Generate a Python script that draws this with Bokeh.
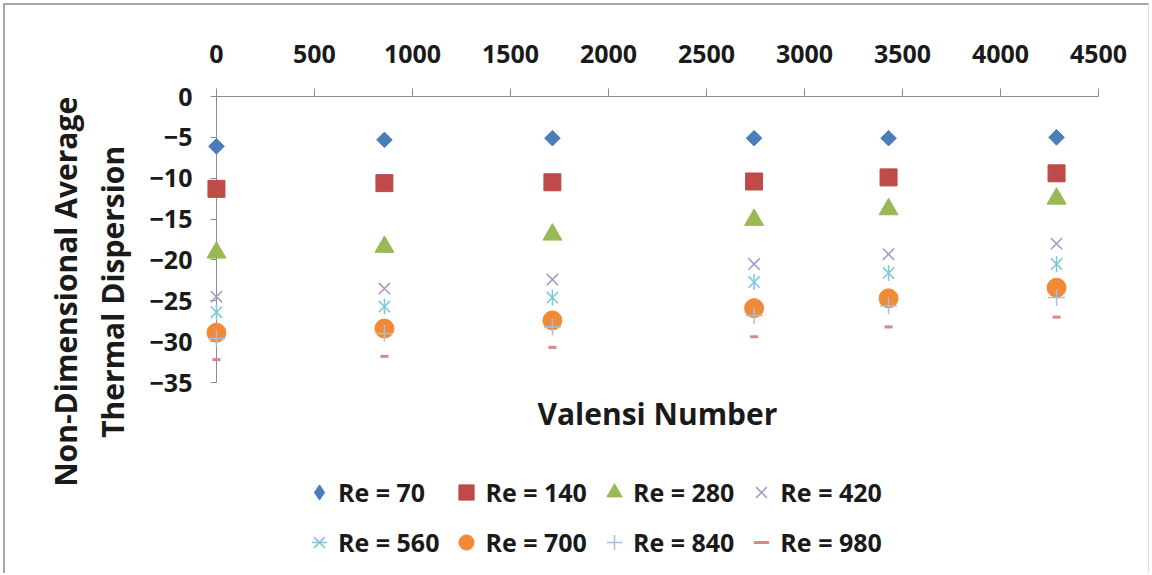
import math
from bokeh.plotting import figure
from bokeh.models import Range1d, Legend, LegendItem, Label, FixedTicker
from bokeh.embed import file_html
from bokeh.resources import INLINE

# ---- data ----
valensi = [0, 857, 1714, 2743, 3429, 4286]
re_labels = ["Re = 70", "Re = 140", "Re = 280", "Re = 420",
             "Re = 560", "Re = 700", "Re = 840", "Re = 980"]
re70 = [-6.1, -5.3, -5.1, -5.1, -5.1, -5.0]
re140 = [-11.3, -10.6, -10.5, -10.4, -9.9, -9.4]
re280 = [-19.1, -18.4, -16.9, -15.1, -13.8, -12.5]
re420 = [-24.5, -23.5, -22.4, -20.5, -19.3, -18.0]
re560 = [-26.4, -25.7, -24.6, -22.7, -21.6, -20.5]
re700 = [-28.9, -28.4, -27.4, -25.9, -24.7, -23.4]
re840 = [-29.6, -29.0, -28.2, -26.8, -25.6, -24.6]
re980 = [-32.2, -31.8, -30.7, -29.4, -28.2, -27.0]
x_ticks = [0, 500, 1000, 1500, 2000, 2500, 3000, 3500, 4000, 4500]
y_ticks = [0, -5, -10, -15, -20, -25, -30, -35]

FONT = "Open Sans"
TXT = "#1a1a1a"

# The frame spans (almost) the whole chart so that tick labels, titles and the
# legend are drawn inside it; both axes are fixed at 0 and bounded to the
# data area (x 0..4500 along y = 0, y 0..-35 along x = 0).
p = figure(width=1146, height=570, output_backend="svg", toolbar_location=None,
           x_range=Range1d(-1061, 4745), y_range=Range1d(-58.25, 10.77),
           x_axis_location="above",
           min_border_left=3, min_border_right=5,
           min_border_top=3, min_border_bottom=3,
           styles={"margin": "3px 0 0 3px",
                   "border-left": "2px solid #A8A8A8",
                   "border-top": "2px solid #A8A8A8",
                   "border-right": "1px solid #DDDDDD"})
p.xgrid.visible = False
p.ygrid.visible = False
p.outline_line_color = None
p.background_fill_color = "white"
p.border_fill_color = "white"

for ax in (p.xaxis[0], p.yaxis[0]):
    ax.axis_line_color = "#8C8C8C"
    ax.major_tick_line_color = "#8C8C8C"
    ax.minor_tick_line_color = None
    ax.major_tick_in = 0
    ax.major_label_text_font = FONT
    ax.major_label_text_font_style = "bold"
    ax.major_label_text_font_size = "25px"
    ax.major_label_text_color = TXT
    ax.fixed_location = 0
p.xaxis[0].ticker = FixedTicker(ticks=x_ticks)
p.yaxis[0].ticker = FixedTicker(ticks=y_ticks)
p.xaxis[0].bounds = (0, 4500)
p.yaxis[0].bounds = (-35, 0)
p.xaxis[0].major_tick_out = 8
p.xaxis[0].major_label_standoff = 26
p.yaxis[0].major_tick_out = 6
p.yaxis[0].major_label_standoff = 18

LV = "annotation"  # draw the marks over the axis lines, as in the original
BLUE = "#4A7EBB"
items = []
p.scatter(valensi, re70, marker="square", angle=math.pi / 4, size=11,
          fill_color=BLUE, line_color=BLUE, level=LV)
# legend swatch only (the legend ignores marker angles): an unplotted diamond
r = p.scatter([float("nan")], [float("nan")], marker="diamond", size=16,
              fill_color=BLUE, line_color=BLUE)
items.append(LegendItem(label=re_labels[0], renderers=[r]))
r = p.scatter(valensi, re140, marker="square", size=17,
              fill_color="#BE4B48", line_color="#BE4B48", level=LV)
items.append(LegendItem(label=re_labels[1], renderers=[r]))
r = p.scatter(valensi, re280, marker="triangle", size=19,
              fill_color="#98B954", line_color="#98B954", level=LV)
items.append(LegendItem(label=re_labels[2], renderers=[r]))
r = p.scatter(valensi, re420, marker="x", size=16,
              line_color="#A895C6", line_width=1.5, level=LV)
items.append(LegendItem(label=re_labels[3], renderers=[r]))
r1 = p.scatter(valensi, re560, marker="x", size=16,
               line_color="#7CC7DA", line_width=1.5, level=LV)
r2 = p.scatter(valensi, re560, marker="dash", angle=math.pi / 2, size=16,
               line_color="#7CC7DA", line_width=1.5, level=LV)
items.append(LegendItem(label=re_labels[4], renderers=[r1, r2]))
r = p.scatter(valensi, re700, marker="circle", size=19,
              fill_color="#F08A36", line_color="#F08A36", level=LV)
items.append(LegendItem(label=re_labels[5], renderers=[r]))
r = p.scatter(valensi, re840, marker="cross", size=17,
              line_color="#A8BDE3", line_width=1.5, level=LV)
items.append(LegendItem(label=re_labels[6], renderers=[r]))
r = p.scatter(valensi, re980, marker="dash", size=8,
              line_color="#DB8686", line_width=3, level=LV)
items.append(LegendItem(label=re_labels[7], renderers=[r]))

legend = Legend(items=items, orientation="horizontal", nrows=2,
                location=(292, 9),
                label_text_font=FONT, label_text_font_style="bold",
                label_text_font_size="25px", label_text_color=TXT,
                glyph_width=38, glyph_height=42, label_standoff=0,
                spacing=8, padding=0, margin=0,
                border_line_color=None, background_fill_alpha=0)
p.add_layout(legend, "center")

# x-axis title, centred under the data area
p.add_layout(Label(x=2250, y=-38.8, text="Valensi Number", text_align="center",
                   text_baseline="middle", text_font=FONT,
                   text_font_style="bold", text_font_size="30px",
                   text_color=TXT))

# y-axis title (two lines)
for txt, xpos in (("Non-Dimensional Average", -770), ("Thermal Dispersion", -531)):
    p.add_layout(Label(x=xpos, y=-23.9, text=txt, angle=math.pi / 2,
                       text_align="center", text_baseline="middle",
                       text_font=FONT, text_font_style="bold",
                       text_font_size="30px", text_color=TXT))

open("out.html", "w").write(file_html(p, INLINE))
